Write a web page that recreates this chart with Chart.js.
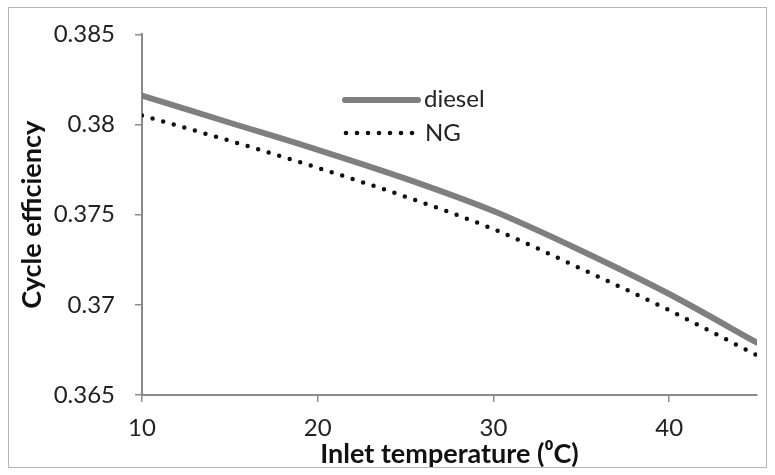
<!DOCTYPE html>
<html>
<head>
<meta charset="utf-8">
<script src="https://cdn.jsdelivr.net/npm/chart.js@4/dist/chart.umd.min.js"></script>
<style>
  html, body { margin: 0; padding: 0; background: #fff; }
  #wrap { position: relative; width: 775px; height: 475px; }
</style>
</head>
<body>
<div id="wrap"><canvas id="chart" width="775" height="475"></canvas></div>
<script>
  // inlet temperature (deg C)
  const temps = [10, 15, 20, 25, 30, 35, 40, 45];
  const diesel = [0.3816, 0.3801, 0.3786, 0.3770, 0.3752, 0.3730, 0.3706, 0.3679];
  const ng = [0.3805, 0.3791, 0.3776, 0.3760, 0.3742, 0.3720, 0.3697, 0.3672];
  const xTicks = [10, 20, 30, 40];
  const yTicks = [0.365, 0.37, 0.375, 0.38, 0.385];

  const FONT = "Lato, 'Open Sans', sans-serif";
  const AXIS = "#8a8a8a";

  const frame = {
    id: "frame",
    afterDraw(chart) {
      const c = chart.ctx;
      c.save();
      c.strokeStyle = "#b5b5b5";
      c.lineWidth = 1;
      c.strokeRect(8.5, 7.5, 758, 460);

      // legend
      c.lineCap = "round";
      c.strokeStyle = "#7f7f7f";
      c.lineWidth = 6;
      c.beginPath();
      c.moveTo(345, 100);
      c.lineTo(418, 100);
      c.stroke();
      c.fillStyle = "#111";
      for (let x = 346; x <= 412; x += 11) {
        c.beginPath();
        c.arc(x, 133, 2.3, 0, Math.PI * 2);
        c.fill();
      }
      c.font = "24px " + FONT;
      c.fillStyle = "#222";
      c.textBaseline = "middle";
      c.fillText("diesel", 424, 99);
      c.fillText("NG", 425, 133);
      c.restore();
    }
  };

  new Chart(document.getElementById("chart"), {
    type: "line",
    data: {
      datasets: [
        {
          label: "diesel",
          data: temps.map((t, i) => ({ x: t, y: diesel[i] })),
          borderColor: "#7f7f7f",
          borderWidth: 6,
          borderCapStyle: "round",
          pointRadius: 0,
          cubicInterpolationMode: "monotone"
        },
        {
          label: "NG",
          data: temps.map((t, i) => ({ x: t, y: ng[i] })),
          borderColor: "#111",
          borderWidth: 4.5,
          borderDash: [0, 11],
          borderCapStyle: "round",
          pointRadius: 0,
          cubicInterpolationMode: "monotone"
        }
      ]
    },
    options: {
      responsive: false,
      animation: false,
      layout: { padding: { left: 10, top: 28, right: 18, bottom: 0 } },
      plugins: { legend: { display: false }, tooltip: { enabled: false } },
      scales: {
        x: {
          type: "linear",
          min: 10,
          max: 45,
          afterBuildTicks: s => { s.ticks = xTicks.map(v => ({ value: v })); },
          afterFit: s => { s.height = 80; },
          border: { color: AXIS, width: 2 },
          grid: { drawOnChartArea: false, color: AXIS, tickLength: 7, lineWidth: 1.5 },
          ticks: { color: "#222", font: { family: FONT, size: 24 }, padding: 12, callback: v => String(v) },
          title: {
            display: true,
            text: "Inlet temperature (\u2070C)",
            color: "#111",
            font: { family: FONT, size: 27, weight: "bold" },
            padding: { top: 0, bottom: 5 }
          }
        },
        y: {
          min: 0.365,
          max: 0.385,
          afterBuildTicks: s => { s.ticks = yTicks.map(v => ({ value: v })); },
          afterFit: s => { s.width = 132; },
          border: { color: AXIS, width: 2 },
          grid: { drawOnChartArea: false, color: AXIS, tickLength: 7, lineWidth: 1.5 },
          ticks: { color: "#222", font: { family: FONT, size: 24 }, padding: 20, callback: v => String(+v.toFixed(3)) },
          title: {
            display: true,
            text: "Cycle efficiency",
            color: "#111",
            font: { family: FONT, size: 27, weight: "bold" },
            padding: { top: 6, bottom: 0 }
          }
        }
      }
    },
    plugins: [frame]
  });
</script>
</body>
</html>
